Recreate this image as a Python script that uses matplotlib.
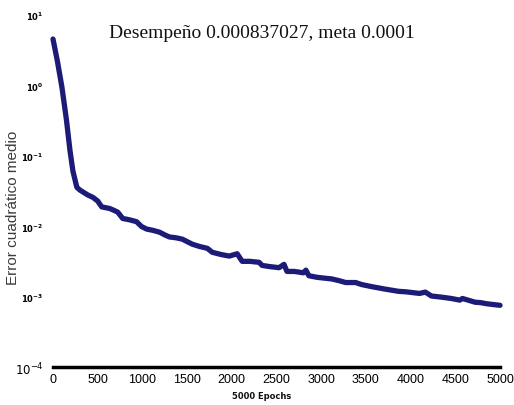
import matplotlib
matplotlib.use("Agg")
import matplotlib.pyplot as plt
import numpy as np

# Data (epoch, mean squared error)
epochs = [0, 50, 100, 150, 190, 223, 267, 300, 334, 390, 445, 500, 545, 590, 635,
          680, 724, 780, 850, 935, 990, 1047, 1120, 1192, 1250, 1303, 1380, 1448,
          1500, 1559, 1640, 1726, 1782, 1880, 1971, 2060, 2116, 2200, 2305, 2339,
          2420, 2528, 2584, 2617, 2700, 2800, 2829, 2862, 2950, 3030, 3118, 3200,
          3274, 3385, 3450, 3563, 3700, 3864, 3950, 4100, 4165, 4232, 4350, 4454,
          4550, 4580, 4722, 4780, 4850, 4920, 5000]
mse = [4.6, 2.2, 0.95, 0.33, 0.12, 0.061, 0.036, 0.033, 0.031, 0.028, 0.026,
       0.023, 0.019, 0.0185, 0.018, 0.017, 0.016, 0.013, 0.0125, 0.0117, 0.010,
       0.0092, 0.0088, 0.0083, 0.0076, 0.0071, 0.0069, 0.0066, 0.0061, 0.0056,
       0.0052, 0.0049, 0.0043, 0.0040, 0.0038, 0.0041, 0.0032, 0.0032, 0.0031,
       0.0028, 0.0027, 0.0026, 0.0029, 0.0023, 0.0023, 0.0022, 0.0024, 0.0020,
       0.0019, 0.00185, 0.0018, 0.0017, 0.0016, 0.0016, 0.0015, 0.0014, 0.0013,
       0.0012, 0.00118, 0.00112, 0.00117, 0.00103, 0.00099, 0.00095, 0.00090,
       0.00095, 0.00084, 0.00083, 0.00080, 0.00078, 0.00076]

goal = 0.0001
xticks = [0, 500, 1000, 1500, 2000, 2500, 3000, 3500, 4000, 4500, 5000]
yticks = [1e-4, 1e-3, 1e-2, 1e-1, 1e0, 1e1]
ytick_labels = [r'$10^{-4}$', r'$\mathbf{10^{-3}}$', r'$\mathbf{10^{-2}}$',
                r'$\mathbf{10^{-1}}$', r'$\mathbf{10^{0}}$', r'$\mathbf{10^{1}}$']
title = "Desempeño 0.000837027, meta 0.0001"
ylabel = "Error cuadrático medio"
xlabel = "5000 Epochs"

fig = plt.figure(figsize=(5.14, 4.06), dpi=100)
ax = fig.add_axes([53/514, 1-368.3/406, 447/514, (368.3-16.3)/406])
ax.set_yscale('log')
ax.plot(epochs, mse, color='#1c1c78', lw=3.8, solid_joinstyle='round',
        solid_capstyle='round', clip_on=False, zorder=3)
ax.plot([0, 5000], [goal, goal], color='black', lw=2.5, clip_on=False, zorder=2)
ax.set_xlim(0, 5000)
ax.set_ylim(1e-4, 1e1)
for s in ax.spines.values():
    s.set_visible(False)
ax.minorticks_off()
ax.set_xticks(xticks)
ax.set_xticklabels([str(t) for t in xticks], family='Liberation Sans',
                   fontsize=9)
ax.set_yticks(yticks)
ax.set_yticklabels(ytick_labels, fontsize=6)
ax.get_yticklabels()[0].set_fontsize(8.5)
ax.tick_params(length=0, pad=7)
ax.tick_params(axis='x', pad=4)

fig.text(262/514, 1-34/406, title, family='Liberation Serif', fontsize=14,
         ha='center', va='center', color='#111111')
fig.text(13/514, 1-208/406, ylabel, family='Liberation Sans', fontsize=11,
         rotation=90, ha='center', va='center', color='#3c3c3c')
fig.text(262/514, 1-397/406, xlabel, family='DejaVu Sans', fontsize=6,
         fontweight='bold', ha='center', va='center', color='#111111')

fig.savefig('out.png', dpi=100)
